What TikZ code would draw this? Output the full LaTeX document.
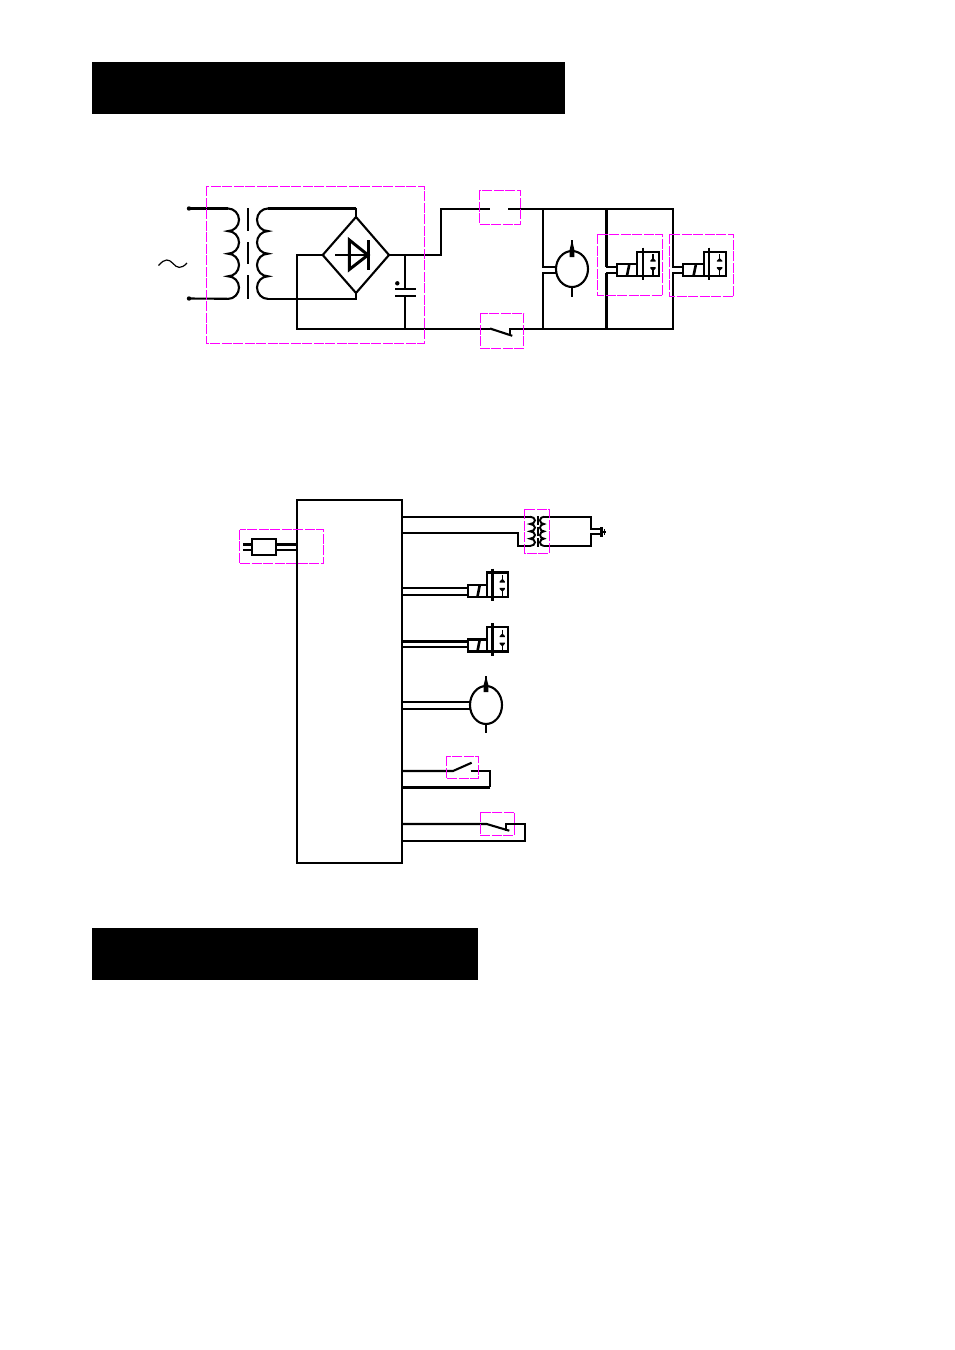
\documentclass[tikz,border=0pt]{standalone}
\definecolor{guidepink}{RGB}{255,0,255}
\tikzset{
  wire/.style={line width=2.1pt,line join=miter},
  heavywire/.style={line width=3pt},
  finewire/.style={line width=1.4pt},
  guide/.style={draw=guidepink,line width=1pt,dash pattern=on 10pt off 1.5pt},
  banner/.style={fill=black,draw=none},
}
% #1 x of coil left, #2 y of big rect top, #3 horizontal scale : valve symbol
\newcommand{\valve}[3]{%
 \begin{scope}[shift={(#1,#2)},xscale=#3]
  \draw[wire] (0,12.3) rectangle (20.6,24.3);
  \draw[wire] (20.6,0) rectangle (42.6,24.3);
  \draw[line width=2.6pt] (12.5,13.3) -- (10.2,24.3);
  \draw[wire] (26,-4) -- (26,28.3);
  \draw[finewire] (36.3,2.3) -- (36.3,8.3);
  \fill (33.6,8.9) -- (35.6,6.9) -- (37,6.9) -- (39,8.9) -- (39,10) -- (33.6,10) -- cycle;
  \fill (33.6,15.4) -- (39,15.4) -- (39,16.6) -- (37,18.6) -- (35.6,18.6) -- (33.6,16.6) -- cycle;
  \draw[finewire] (36.3,16.6) -- (36.3,23);
 \end{scope}}
% #1,#2 centre of motor; #3 y radius
\newcommand{\motor}[3]{%
 \begin{scope}[shift={(#1,#2)}]
  \draw[wire] (0,0) ellipse [x radius=16,y radius=#3];
  \draw[finewire] (0,-29) -- (0,-#3);
  \fill (-0.8,-26) -- (0.8,-26) -- (2.4,-#3-1) -- (2.4,-#3+6) -- (-2.4,-#3+6) -- (-2.4,-#3-1) -- cycle;
  \draw[wire] (0,#3) -- (0,28);
 \end{scope}}
% #1,#2 start cusp; #3 bulge signed; #4 half lobe height
\newcommand{\coil}[4]{%
 \draw[wire] (#1,#2)
  \foreach \k in {0,1,2,3} { arc[start angle=-90,end angle=90,x radius=#3,y radius=#4] };}
\begin{document}
\begin{tikzpicture}[x=1pt,y=-1pt]
\useasboundingbox[fill=white] (0,0) rectangle (955,1350);
\fill[banner] (92,62) rectangle (565,114);
\fill[banner] (92,928) rectangle (478,980);

% ---------- upper schematic
\coordinate (inA) at (189,208.5);
\coordinate (inB) at (189,298.5);
\coordinate (dT) at (356,217);
\coordinate (dL) at (322.7,255);
\coordinate (dR) at (389,255);
\coordinate (dB) at (356,293);
\coordinate (cap) at (405.3,255);
\coordinate (nRail) at (405.3,329);
\fill (inA) circle (2.2);
\fill (inB) circle (2.2);
\draw[heavywire] (inA) -- (228,208.5);
\draw[wire] (inB) -- (228,298.8);
\coil{228}{208.5}{11}{11.3}
\coil{268}{208.5}{-11}{11.3}
\draw[wire] (248,208) -- (248,231);
\draw[wire] (248,242) -- (248,264);
\draw[wire] (248,275) -- (248,299);
\draw[heavywire] (268,208.5) -- (356,208.5);
\draw[wire] (356,207.5) -- (dT);
\draw[wire] (268,298.8) -- (356,298.8) -- (dB);
\draw[wire] (dT) -- (dL) -- (dB) -- (dR) -- cycle;
% diode
\draw[heavywire] (349.3,240) -- (349.3,269.5) -- (368,255) -- cycle;
\draw[heavywire] (368.3,240) -- (368.3,270);
\draw[wire] (335,255) -- (368,255);
% rails
\draw[wire] (dL) -- (296.9,255) -- (296.9,329) -- (490,329);
\draw[wire] (dR) -- (441,255) -- (441,209) -- (490,209);
\draw[wire] (508.3,209) -- (673,209) -- (673,267.3) -- (683.3,267.3);
\draw[wire] (683.3,272.7) -- (673,272.7) -- (673,328.8) -- (510,328.8) -- (510,336);
\draw[wire] (490,328.5) -- (512.3,335.8);
% capacitor
\draw[wire] (cap) -- (405.3,288.7);
\draw[wire] (395,288.7) -- (415.7,288.7);
\draw[wire] (395,295.7) -- (415.7,295.7);
\draw[wire] (405.3,295.7) -- (nRail);
\fill (397.3,283.3) circle (2.2);
% tilde
\draw[line width=1.2pt] (158.5,265.5) .. controls (165,258) and (169,259) .. (173,263.5) .. controls (177,268) and (181,269.5) .. (187,263);
% motor
\draw[wire] (543.3,209) -- (543.3,267.3) -- (556,267.3);
\draw[wire] (543.3,329) -- (543.3,272.7) -- (556,272.7);
\motor{572}{269}{18}
% valves
\draw[heavywire] (606,209) -- (606,267.3);
\draw[wire] (606,267.3) -- (616.7,267.3);
\draw[heavywire] (606,329) -- (606,272.7);
\draw[wire] (606,272.7) -- (616.7,272.7);
\valve{616.7}{251.7}{1}
\valve{683.3}{251.7}{1}
% guides
\draw[guide] (206.3,186.3) rectangle (424.5,343.3);
\draw[guide] (479.3,190.3) rectangle (520.7,224.3);
\draw[guide] (480.3,313.3) rectangle (523.7,348.3);
\draw[guide] (597.5,234.3) rectangle (662.3,295.3);
\draw[guide] (669.5,234.3) rectangle (733.5,296.3);

% ---------- lower schematic
\draw[wire] (297,500) rectangle (402,863);
% plug
\draw[wire] (252,538.7) rectangle (276,554.7);
\draw[heavywire] (243.3,544) -- (252,544);
\draw[wire] (243.3,550) -- (252,550);
\draw[heavywire] (276,544) -- (297,544);
\draw[wire] (276,550) -- (297,550);
\draw[guide] (239.5,529.5) rectangle (323.5,563.5);
% transformer branch
\draw[wire] (402,516.7) -- (530,516.7);
\draw[wire] (402,532.7) -- (517.7,532.7) -- (517.7,546) -- (530,546);
\draw[wire] (544,516.7) -- (591,516.7) -- (591,529.3) -- (602,529.3);
\draw[wire] (544,546) -- (591,546) -- (591,534) -- (602,534);
\begin{scope}[line width=1.9pt]
 \draw (530,516.7) \foreach \k in {0,1,2,3} { arc[start angle=-90,end angle=90,x radius=5,y radius=3.66] };
 \draw (544,516.7) \foreach \k in {0,1,2,3} { arc[start angle=-90,end angle=90,x radius=-4,y radius=3.66] };
 \draw (537.6,516) -- (537.6,524.5);
 \draw (537.6,527) -- (537.6,535.5);
 \draw (537.6,538) -- (537.6,546.5);
\end{scope}
\draw[heavywire] (601.5,527) -- (601.5,537);
\draw[wire] (601,531.7) -- (605.5,531.7);
\draw[finewire] (604.3,529) -- (604.3,534.5);
\draw[guide] (524.7,509.3) rectangle (549.3,553.3);
% valves
\draw[wire] (402,587.7) -- (467.7,587.7);
\draw[wire] (402,595) -- (467.7,595);
\valve{467.7}{572.5}{0.953}
\draw[heavywire] (402,641) -- (467.7,641);
\draw[wire] (402,647) -- (467.7,647);
\valve{467.7}{627.2}{0.953}
% motor
\draw[wire] (402,702) -- (470,702);
\draw[wire] (402,708.7) -- (470,708.7);
\motor{486}{705}{19}
% switch 1
\draw[wire] (402,771) -- (453,771) -- (471.7,762.7);
\draw[wire] (470.7,771) -- (490.3,771) -- (490.3,787.3);
\draw[heavywire] (490.3,787.3) -- (402,787.3);
\draw[guide] (446.3,756.3) rectangle (478.3,778.3);
% switch 2
\draw[wire] (402,824) -- (486.7,824) -- (509.3,830.7);
\draw[wire] (505.7,830.7) -- (505.7,824) -- (525,824) -- (525,840.7) -- (402,840.7);
\draw[guide] (480.3,812.3) rectangle (514.3,835.3);
\end{tikzpicture}
\end{document}
